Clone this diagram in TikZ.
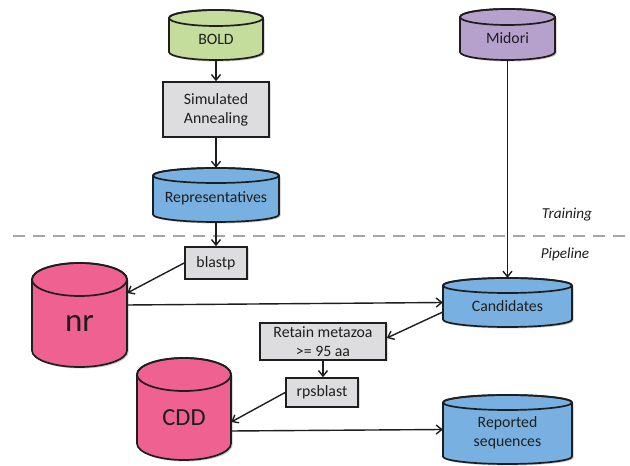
\documentclass[tikz,border=0pt]{standalone}
\usepackage{fontspec}
\setmainfont{Carlito}
\usetikzlibrary{arrows.meta,shadows}
\definecolor{boldgreen}{RGB}{196,221,157}
\definecolor{midpurple}{RGB}{182,161,205}
\definecolor{dbblue}{RGB}{120,177,225}
\definecolor{dbpink}{RGB}{238,97,144}
\definecolor{boxgray}{RGB}{221,221,223}
\definecolor{sepgray}{RGB}{166,166,166}
\definecolor{inkdark}{RGB}{30,30,30}
\tikzset{
  outline/.style={draw=inkdark, line width=1.7pt},
  lbl/.style={font=\fontsize{15.8}{19}\selectfont, align=center, text=inkdark, inner sep=0pt},
  procbox/.style={outline, fill=boxgray, inner sep=0pt, align=center,
    font=\fontsize{15.8}{19}\selectfont, text=inkdark,
    drop shadow={shadow xshift=1.5pt, shadow yshift=-1.5pt, opacity=.25}},
  anchorbox/.style={inner sep=0pt, draw=none},
  conn/.style={line width=1.4pt, draw=inkdark, -{Straight Barb[length=5.5pt,width=9pt]}},
  sepline/.style={draw=sepgray, line width=2.6pt, dash pattern=on 12pt off 8pt},
  phase/.style={font=\fontsize{15.2}{18}\selectfont\itshape, text=inkdark, inner sep=0pt}
}
% #1 name, #2 left, #3 right, #4 top (from top), #5 bottom (from top), #6 ry, #7 fill, #8 text
\newcommand\dbcyl[8]{%
  \pgfmathsetmacro\cylCX{(#2+#3)/2}%
  \pgfmathsetmacro\cylRX{(#3-#2)/2}%
  \pgfmathsetmacro\cylYT{466-#4-#6}%
  \pgfmathsetmacro\cylYB{466-#5+#6}%
  \pgfmathsetmacro\cylYM{466-(#4+#5)/2}%
  \pgfmathsetmacro\cylYX{466-(#4+#5)/2-#6/2}%
  \pgfmathsetmacro\cylW{#3-#2}%
  \pgfmathsetmacro\cylH{#5-#4}%
  \fill[black, opacity=.22, shift={(1.5,-1.5)}] (#2,\cylYT) -- (#2,\cylYB)
    arc[start angle=180, end angle=360, x radius=\cylRX pt, y radius=#6 pt]
    -- (#3,\cylYT) arc[start angle=0, end angle=180, x radius=\cylRX pt, y radius=#6 pt] -- cycle;
  \filldraw[outline, fill=#7] (#2,\cylYT) -- (#2,\cylYB)
    arc[start angle=180, end angle=360, x radius=\cylRX pt, y radius=#6 pt]
    -- (#3,\cylYT) arc[start angle=0, end angle=180, x radius=\cylRX pt, y radius=#6 pt] -- cycle;
  \draw[outline] (\cylCX,\cylYT) ellipse[x radius=\cylRX pt, y radius=#6 pt];
  \node[anchorbox, minimum width=\cylW pt, minimum height=\cylH pt] (#1) at (\cylCX,\cylYM) {};
  \node[lbl] (#1-text) at (\cylCX,\cylYX) {#8};
}
\begin{document}
\begin{tikzpicture}[x=1pt,y=1pt]
\useasboundingbox[fill=white] (0,0) rectangle (630,466);

% separator
\coordinate (sepL) at (13,230);
\coordinate (sepR) at (630,230);
\draw[sepline] (sepL) -- (sepR);
\node[phase] (training) at (567,251) {Training};
\node[phase] (pipeline) at (565,212) {Pipeline};

% databases
\dbcyl{bold}{169}{263}{10}{60}{8}{boldgreen}{BOLD}
\dbcyl{midori}{460}{555}{9}{60}{8}{midpurple}{Midori}
\dbcyl{repr}{153}{279}{168}{222}{7.5}{dbblue}{Representatives}
\dbcyl{nr}{32}{127}{263}{367}{16.5}{dbpink}{\fontsize{33}{36}\selectfont nr}
\dbcyl{cdd}{137}{231}{358}{460}{16.5}{dbpink}{\fontsize{24.5}{28}\selectfont CDD}
\dbcyl{cand}{443}{572}{278}{327}{7.5}{dbblue}{Candidates}
\dbcyl{rep}{443}{572}{395}{464}{7.5}{dbblue}{Reported\\sequences}

% process boxes
\node[procbox, minimum width=106pt, minimum height=55pt] (sa) at (216,356.5) {Simulated\\Annealing};
\node[procbox, minimum width=62pt, minimum height=32pt] (blastp) at (216,203) {blastp};
\node[procbox, minimum width=126pt, minimum height=37pt] (retain) at (323,124.5) {Retain metazoa\\>= 95 aa};
\node[procbox, minimum width=72pt, minimum height=29pt] (rps) at (322,73.5) {rpsblast};

% connectors
\draw[conn] (bold.south) -- (sa.north);
\draw[conn] (sa.south) -- (repr.north);
\draw[conn] (repr.south) -- (blastp.north);
\draw[conn] (blastp.west) -- ([yshift=22pt]nr.east);
\draw[conn] ([yshift=10pt]nr.east) -- (cand.west);
\draw[conn] (midori.south) -- (cand.north);
\draw[conn] ([yshift=-9.5pt]cand.west) -- ([yshift=3.5pt]retain.east);
\draw[conn] (retain.south) -- (retain.south |- rps.north);
\draw[conn] (rps.west) -- ([yshift=-13pt]cdd.east);
\draw[conn] ([yshift=-22pt]cdd.east) -- (rep.west);
\end{tikzpicture}
\end{document}
